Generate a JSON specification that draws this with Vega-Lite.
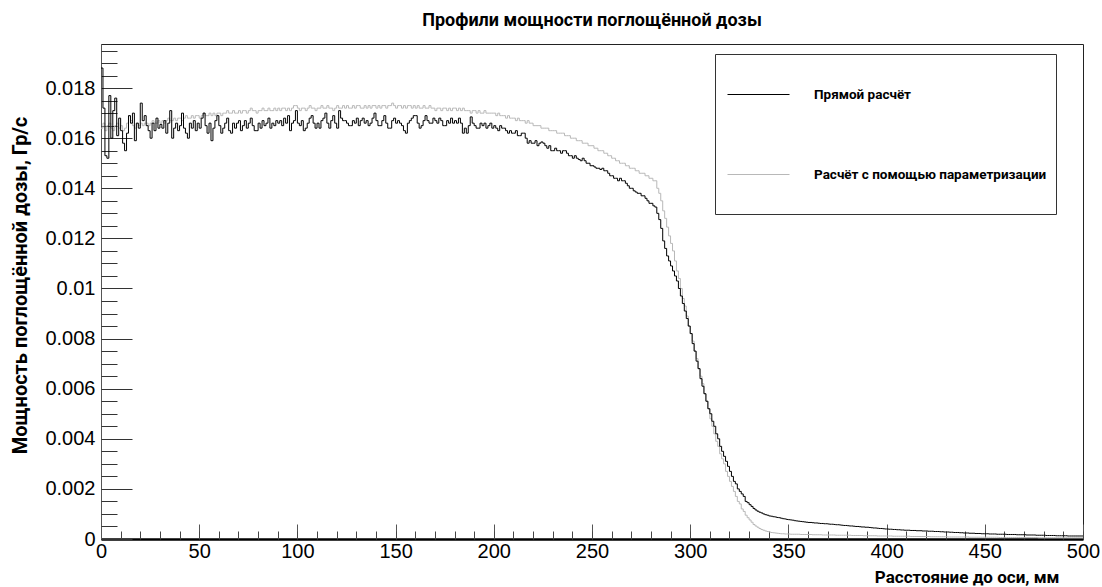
{
"$schema":"https://vega.github.io/schema/vega-lite/v6.json",
"width":982,"height":495,
"autosize":"none",
"padding":{"left":101,"top":44,"right":19,"bottom":48},
"background":"white",
"title":{"text":"Профили мощности поглощённой дозы","font":"Roboto","fontSize":18,"fontWeight":"bold","color":"black","anchor":"middle","offset":14},
"config":{"view":{"stroke":"#222","strokeWidth":1},"axis":{"grid":false}},
"data":{"values":[
{"x":0,"d":0.0188,"p":0.0164},{"x":1,"d":0.0172,"p":0.0166},{"x":2,"d":0.0153,"p":0.0163},{"x":3,"d":0.0152,"p":0.0165},{"x":4,"d":0.0177,"p":0.0166},
{"x":5,"d":0.0160,"p":0.0164},{"x":6,"d":0.0171,"p":0.0163},{"x":7,"d":0.0176,"p":0.0165},{"x":8,"d":0.0161,"p":0.0166},{"x":9,"d":0.0168,"p":0.0164},
{"x":10,"d":0.0163,"p":0.0165},{"x":11,"d":0.0158,"p":0.0163},{"x":12,"d":0.0155,"p":0.0164},{"x":13,"d":0.0162,"p":0.0166},{"x":14,"d":0.0169,"p":0.0169},
{"x":15,"d":0.0166,"p":0.0167},{"x":16,"d":0.0170,"p":0.0165},{"x":17,"d":0.0159,"p":0.0164},{"x":18,"d":0.0166,"p":0.0166},{"x":19,"d":0.0164,"p":0.0165},
{"x":20,"d":0.0174,"p":0.0166},{"x":21,"d":0.0167,"p":0.0165},{"x":22,"d":0.0169,"p":0.0166},{"x":23,"d":0.0165,"p":0.0166},{"x":24,"d":0.0163,"p":0.0165},
{"x":25,"d":0.0160,"p":0.0166},{"x":26,"d":0.0166,"p":0.0167},{"x":27,"d":0.0163,"p":0.0166},{"x":28,"d":0.0168,"p":0.0166},{"x":29,"d":0.0164,"p":0.0167},
{"x":30,"d":0.01655,"p":0.0166},{"x":31,"d":0.0164,"p":0.0167},{"x":32,"d":0.0167,"p":0.0166},{"x":33,"d":0.0162,"p":0.0167},{"x":34,"d":0.0166,"p":0.0168},
{"x":35,"d":0.0171,"p":0.0167},{"x":36,"d":0.0160,"p":0.0167},{"x":37,"d":0.0164,"p":0.0168},{"x":38,"d":0.0166,"p":0.0167},{"x":39,"d":0.0163,"p":0.0168},
{"x":40,"d":0.0165,"p":0.0168},{"x":41,"d":0.0170,"p":0.0167},{"x":42,"d":0.0164,"p":0.0168},{"x":43,"d":0.0162,"p":0.0169},{"x":44,"d":0.0160,"p":0.0168},
{"x":45,"d":0.0166,"p":0.0168},{"x":46,"d":0.0164,"p":0.0169},{"x":47,"d":0.0167,"p":0.0168},{"x":48,"d":0.0163,"p":0.0169},{"x":49,"d":0.0166,"p":0.0169},
{"x":50,"d":0.0164,"p":0.0168},{"x":51,"d":0.0168,"p":0.0169},{"x":52,"d":0.0170,"p":0.0170},{"x":53,"d":0.0165,"p":0.0169},{"x":54,"d":0.0162,"p":0.0169},
{"x":55,"d":0.0166,"p":0.0170},{"x":56,"d":0.0159,"p":0.0169},{"x":57,"d":0.0164,"p":0.0170},{"x":58,"d":0.0167,"p":0.0169},{"x":59,"d":0.0169,"p":0.0170},
{"x":60,"d":0.0165,"p":0.0170},{"x":61,"d":0.0162,"p":0.0169},{"x":62,"d":0.0164,"p":0.0170},{"x":63,"d":0.0166,"p":0.0170},{"x":64,"d":0.0168,"p":0.0171},
{"x":65,"d":0.0163,"p":0.0170},{"x":66,"d":0.0162,"p":0.0170},{"x":67,"d":0.0166,"p":0.0171},{"x":68,"d":0.0164,"p":0.0170},{"x":69,"d":0.0166,"p":0.0170},
{"x":70,"d":0.0167,"p":0.0171},{"x":71,"d":0.0163,"p":0.0170},{"x":72,"d":0.0165,"p":0.0171},{"x":73,"d":0.0167,"p":0.0171},{"x":74,"d":0.0164,"p":0.0170},
{"x":75,"d":0.0166,"p":0.0171},{"x":76,"d":0.0168,"p":0.0172},{"x":77,"d":0.0165,"p":0.0171},{"x":78,"d":0.0163,"p":0.0171},{"x":79,"d":0.0163,"p":0.0170},
{"x":80,"d":0.0166,"p":0.0171},{"x":81,"d":0.0164,"p":0.0171},{"x":82,"d":0.0167,"p":0.0172},{"x":83,"d":0.0165,"p":0.0171},{"x":84,"d":0.0166,"p":0.0171},
{"x":85,"d":0.0168,"p":0.0172},{"x":86,"d":0.0164,"p":0.0171},{"x":87,"d":0.0166,"p":0.0171},{"x":88,"d":0.0165,"p":0.0172},{"x":89,"d":0.0167,"p":0.0171},
{"x":90,"d":0.0166,"p":0.0172},{"x":91,"d":0.0167,"p":0.0171},{"x":92,"d":0.0165,"p":0.0172},{"x":93,"d":0.0168,"p":0.0172},{"x":94,"d":0.0166,"p":0.0171},
{"x":95,"d":0.0169,"p":0.0172},{"x":96,"d":0.0163,"p":0.0171},{"x":97,"d":0.0166,"p":0.0172},{"x":98,"d":0.0167,"p":0.0173},{"x":99,"d":0.0171,"p":0.0173},
{"x":100,"d":0.0166,"p":0.0172},{"x":101,"d":0.0165,"p":0.0171},{"x":102,"d":0.0167,"p":0.0172},{"x":103,"d":0.0163,"p":0.0172},{"x":104,"d":0.0164,"p":0.0171},
{"x":105,"d":0.0166,"p":0.0172},{"x":106,"d":0.0168,"p":0.0173},{"x":107,"d":0.0169,"p":0.0172},{"x":108,"d":0.0166,"p":0.0172},{"x":109,"d":0.0164,"p":0.0171},
{"x":110,"d":0.0166,"p":0.0172},{"x":111,"d":0.0164,"p":0.0172},{"x":112,"d":0.0167,"p":0.0173},{"x":113,"d":0.0168,"p":0.0172},{"x":114,"d":0.0170,"p":0.0172},
{"x":115,"d":0.0166,"p":0.0173},{"x":116,"d":0.0164,"p":0.0172},{"x":117,"d":0.0167,"p":0.0172},{"x":118,"d":0.0169,"p":0.0171},{"x":119,"d":0.0166,"p":0.0172},
{"x":120,"d":0.0164,"p":0.0173},{"x":121,"d":0.0171,"p":0.0172},{"x":122,"d":0.0168,"p":0.0172},{"x":123,"d":0.0167,"p":0.0173},{"x":124,"d":0.0167,"p":0.0172},
{"x":125,"d":0.0166,"p":0.0173},{"x":126,"d":0.0165,"p":0.0172},{"x":127,"d":0.0165,"p":0.0172},{"x":128,"d":0.0167,"p":0.0173},{"x":129,"d":0.0166,"p":0.0172},
{"x":130,"d":0.0168,"p":0.0173},{"x":131,"d":0.0165,"p":0.0173},{"x":132,"d":0.0167,"p":0.0172},{"x":133,"d":0.0168,"p":0.0172},{"x":134,"d":0.0166,"p":0.0173},
{"x":135,"d":0.0167,"p":0.0172},{"x":136,"d":0.0165,"p":0.0173},{"x":137,"d":0.0166,"p":0.0172},{"x":138,"d":0.0168,"p":0.0173},{"x":139,"d":0.0170,"p":0.0173},
{"x":140,"d":0.0167,"p":0.0172},{"x":141,"d":0.0165,"p":0.0173},{"x":142,"d":0.0165,"p":0.0172},{"x":143,"d":0.0167,"p":0.0173},{"x":144,"d":0.0169,"p":0.0173},
{"x":145,"d":0.0166,"p":0.0172},{"x":146,"d":0.0164,"p":0.0173},{"x":147,"d":0.0164,"p":0.0173},{"x":148,"d":0.0167,"p":0.0174},{"x":149,"d":0.0168,"p":0.0173},
{"x":150,"d":0.0166,"p":0.0172},{"x":151,"d":0.0167,"p":0.0173},{"x":152,"d":0.0166,"p":0.0173},{"x":153,"d":0.0165,"p":0.0172},{"x":154,"d":0.0163,"p":0.0173},
{"x":155,"d":0.0162,"p":0.0172},{"x":156,"d":0.0166,"p":0.0173},{"x":157,"d":0.0167,"p":0.0173},{"x":158,"d":0.0168,"p":0.0172},{"x":159,"d":0.0169,"p":0.0173},
{"x":160,"d":0.0169,"p":0.0172},{"x":161,"d":0.0166,"p":0.0173},{"x":162,"d":0.0164,"p":0.0172},{"x":163,"d":0.0165,"p":0.0172},{"x":164,"d":0.0167,"p":0.0173},
{"x":165,"d":0.0169,"p":0.0172},{"x":166,"d":0.0167,"p":0.0172},{"x":167,"d":0.0166,"p":0.0173},{"x":168,"d":0.0166,"p":0.0172},{"x":169,"d":0.0168,"p":0.0172},
{"x":170,"d":0.0167,"p":0.0171},{"x":171,"d":0.0166,"p":0.0172},{"x":172,"d":0.0168,"p":0.0172},{"x":173,"d":0.0167,"p":0.0171},{"x":174,"d":0.0165,"p":0.0172},
{"x":175,"d":0.0165,"p":0.0172},{"x":176,"d":0.0167,"p":0.0171},{"x":177,"d":0.0166,"p":0.0172},{"x":178,"d":0.0168,"p":0.0171},{"x":179,"d":0.0166,"p":0.0172},
{"x":180,"d":0.0167,"p":0.0172},{"x":181,"d":0.0166,"p":0.0171},{"x":182,"d":0.0168,"p":0.0172},{"x":183,"d":0.0166,"p":0.0171},{"x":184,"d":0.0162,"p":0.0172},
{"x":185,"d":0.0164,"p":0.0171},{"x":186,"d":0.0162,"p":0.0171},{"x":187,"d":0.0165,"p":0.0171},{"x":188,"d":0.01685,"p":0.0170},{"x":189,"d":0.0166,"p":0.0171},
{"x":190,"d":0.0165,"p":0.0171},{"x":191,"d":0.0164,"p":0.0170},{"x":192,"d":0.0164,"p":0.0171},{"x":193,"d":0.0166,"p":0.0170},{"x":194,"d":0.0165,"p":0.0170},
{"x":195,"d":0.0166,"p":0.0171},{"x":196,"d":0.0164,"p":0.0170},{"x":197,"d":0.0165,"p":0.0170},{"x":198,"d":0.0166,"p":0.0170},{"x":199,"d":0.0164,"p":0.0170},
{"x":200,"d":0.0165,"p":0.0170},{"x":201,"d":0.0164,"p":0.0169},{"x":202,"d":0.0163,"p":0.0170},{"x":203,"d":0.0165,"p":0.0169},{"x":204,"d":0.0164,"p":0.0169},
{"x":205,"d":0.0164,"p":0.0169},{"x":206,"d":0.0163,"p":0.0168},{"x":207,"d":0.0162,"p":0.0169},{"x":208,"d":0.0163,"p":0.0168},{"x":209,"d":0.0162,"p":0.0168},
{"x":210,"d":0.0162,"p":0.0168},{"x":211,"d":0.0163,"p":0.0167},{"x":212,"d":0.0161,"p":0.0168},{"x":213,"d":0.0161,"p":0.0167},{"x":214,"d":0.0162,"p":0.0167},
{"x":215,"d":0.0162,"p":0.0167},{"x":216,"d":0.0160,"p":0.0166},{"x":217,"d":0.0158,"p":0.0167},{"x":218,"d":0.0159,"p":0.0166},{"x":219,"d":0.0158,"p":0.0166},
{"x":220,"d":0.0158,"p":0.0165},{"x":221,"d":0.0159,"p":0.0165},{"x":222,"d":0.0157,"p":0.0165},{"x":223,"d":0.0158,"p":0.0165},{"x":224,"d":0.01585,"p":0.0164},
{"x":225,"d":0.0158,"p":0.0164},{"x":226,"d":0.0157,"p":0.0164},{"x":227,"d":0.0156,"p":0.0164},{"x":228,"d":0.0157,"p":0.0163},{"x":229,"d":0.0155,"p":0.0163},
{"x":230,"d":0.0155,"p":0.0163},{"x":231,"d":0.0156,"p":0.0163},{"x":232,"d":0.0155,"p":0.0162},{"x":233,"d":0.0155,"p":0.0162},{"x":234,"d":0.0154,"p":0.0162},
{"x":235,"d":0.0155,"p":0.0162},{"x":236,"d":0.0155,"p":0.0161},{"x":237,"d":0.0154,"p":0.0161},{"x":238,"d":0.0153,"p":0.0161},{"x":239,"d":0.0153,"p":0.0160},
{"x":240,"d":0.0152,"p":0.0160},{"x":241,"d":0.0153,"p":0.0160},{"x":242,"d":0.0152,"p":0.0159},{"x":243,"d":0.01515,"p":0.0159},{"x":244,"d":0.0151,"p":0.0159},
{"x":245,"d":0.0152,"p":0.0158},{"x":246,"d":0.0151,"p":0.0158},{"x":247,"d":0.0150,"p":0.0158},{"x":248,"d":0.0150,"p":0.0157},{"x":249,"d":0.0149,"p":0.0157},
{"x":250,"d":0.0149,"p":0.0157},{"x":251,"d":0.01485,"p":0.0156},{"x":252,"d":0.0148,"p":0.0156},{"x":253,"d":0.0148,"p":0.0155},{"x":254,"d":0.01475,"p":0.0155},
{"x":255,"d":0.0148,"p":0.0155},{"x":256,"d":0.0147,"p":0.0154},{"x":257,"d":0.0147,"p":0.0154},{"x":258,"d":0.0146,"p":0.0153},{"x":259,"d":0.0145,"p":0.0153},
{"x":260,"d":0.0145,"p":0.0152},{"x":261,"d":0.0144,"p":0.0152},{"x":262,"d":0.0144,"p":0.0151},{"x":263,"d":0.0143,"p":0.0151},{"x":264,"d":0.0144,"p":0.0150},
{"x":265,"d":0.0143,"p":0.0150},{"x":266,"d":0.0143,"p":0.0150},{"x":267,"d":0.0142,"p":0.0149},{"x":268,"d":0.0141,"p":0.0149},{"x":269,"d":0.0140,"p":0.0148},
{"x":270,"d":0.0140,"p":0.0148},{"x":271,"d":0.0139,"p":0.0148},{"x":272,"d":0.01385,"p":0.0147},{"x":273,"d":0.0138,"p":0.0147},{"x":274,"d":0.0138,"p":0.0146},
{"x":275,"d":0.0137,"p":0.0146},{"x":276,"d":0.0137,"p":0.0146},{"x":277,"d":0.0136,"p":0.0145},{"x":278,"d":0.0135,"p":0.0145},{"x":279,"d":0.0134,"p":0.0144},
{"x":280,"d":0.0134,"p":0.0144},{"x":281,"d":0.0133,"p":0.0143},{"x":282,"d":0.01325,"p":0.0143},{"x":283,"d":0.0130,"p":0.0140},{"x":284,"d":0.01275,"p":0.0138},
{"x":285,"d":0.0124,"p":0.0135},{"x":286,"d":0.0119,"p":0.0131},{"x":287,"d":0.0116,"p":0.0128},{"x":288,"d":0.0113,"p":0.01245},{"x":289,"d":0.0111,"p":0.0121},
{"x":290,"d":0.0109,"p":0.0118},{"x":291,"d":0.0107,"p":0.0115},{"x":292,"d":0.0105,"p":0.0111},{"x":293,"d":0.0103,"p":0.0107},{"x":294,"d":0.0100,"p":0.0104},
{"x":295,"d":0.0097,"p":0.0100},{"x":296,"d":0.0094,"p":0.0096},{"x":297,"d":0.0091,"p":0.0093},{"x":298,"d":0.0088,"p":0.0089},{"x":299,"d":0.0085,"p":0.0085},
{"x":300,"d":0.0082,"p":0.0082},{"x":301,"d":0.0078,"p":0.0079},{"x":302,"d":0.0075,"p":0.0075},{"x":303,"d":0.0071,"p":0.0072},{"x":304,"d":0.0068,"p":0.0068},
{"x":305,"d":0.0064,"p":0.0065},{"x":306,"d":0.0061,"p":0.0062},{"x":307,"d":0.0058,"p":0.0058},{"x":308,"d":0.0055,"p":0.0055},{"x":309,"d":0.0052,"p":0.0052},
{"x":310,"d":0.0050,"p":0.0048},{"x":311,"d":0.0047,"p":0.0045},{"x":312,"d":0.0045,"p":0.0042},{"x":313,"d":0.0042,"p":0.0039},{"x":314,"d":0.0040,"p":0.0037},
{"x":315,"d":0.0037,"p":0.0034},{"x":316,"d":0.0035,"p":0.0032},{"x":317,"d":0.0033,"p":0.0030},{"x":318,"d":0.0031,"p":0.0027},{"x":319,"d":0.0029,"p":0.0025},
{"x":320,"d":0.0027,"p":0.0023},{"x":321,"d":0.0025,"p":0.0021},{"x":322,"d":0.0023,"p":0.0019},{"x":323,"d":0.0022,"p":0.0017},{"x":324,"d":0.0020,"p":0.0015},
{"x":325,"d":0.0019,"p":0.0014},{"x":326,"d":0.0018,"p":0.0012},{"x":327,"d":0.0017,"p":0.0011},{"x":328,"d":0.0015,"p":0.00095},{"x":329,"d":0.00145,"p":0.00085},
{"x":330,"d":0.00137,"p":0.00076},{"x":331,"d":0.0013,"p":0.00067},{"x":332,"d":0.00122,"p":0.00058},{"x":333,"d":0.00116,"p":0.00052},{"x":334,"d":0.00111,"p":0.00047},
{"x":335,"d":0.00107,"p":0.00042},{"x":336,"d":0.00104,"p":0.00038},{"x":337,"d":0.00100,"p":0.00035},{"x":338,"d":0.00097,"p":0.00032},{"x":339,"d":0.00095,"p":0.00030},
{"x":340,"d":0.00092,"p":0.00028},{"x":341,"d":0.00091,"p":0.00026},{"x":342,"d":0.00089,"p":0.00025},{"x":343,"d":0.00088,"p":0.00024},{"x":344,"d":0.00086,"p":0.00023},
{"x":345,"d":0.00085,"p":0.00022},{"x":346,"d":0.00083,"p":0.00021},{"x":347,"d":0.00081,"p":0.00021},{"x":348,"d":0.00080,"p":0.00020},{"x":349,"d":0.00078,"p":0.00020},
{"x":350,"d":0.00077,"p":0.00020},{"x":351,"d":0.00076,"p":0.00019},{"x":352,"d":0.00075,"p":0.00019},{"x":353,"d":0.00073,"p":0.00019},{"x":354,"d":0.00072,"p":0.00019},
{"x":355,"d":0.00071,"p":0.00019},{"x":356,"d":0.00070,"p":0.00018},{"x":357,"d":0.00069,"p":0.00018},{"x":358,"d":0.00068,"p":0.00018},{"x":359,"d":0.00067,"p":0.00018},
{"x":360,"d":0.00066,"p":0.00018},{"x":361,"d":0.00066,"p":0.00018},{"x":362,"d":0.00065,"p":0.00017},{"x":363,"d":0.00064,"p":0.00017},{"x":364,"d":0.00064,"p":0.00017},
{"x":365,"d":0.00063,"p":0.00017},{"x":366,"d":0.00062,"p":0.00017},{"x":367,"d":0.00062,"p":0.00016},{"x":368,"d":0.00061,"p":0.00016},{"x":369,"d":0.00061,"p":0.00016},
{"x":370,"d":0.00060,"p":0.00016},{"x":371,"d":0.00059,"p":0.00016},{"x":372,"d":0.00059,"p":0.00016},{"x":373,"d":0.00058,"p":0.00016},{"x":374,"d":0.00057,"p":0.00015},
{"x":375,"d":0.00057,"p":0.00015},{"x":376,"d":0.00056,"p":0.00015},{"x":377,"d":0.00055,"p":0.00015},{"x":378,"d":0.00054,"p":0.00015},{"x":379,"d":0.00054,"p":0.00015},
{"x":380,"d":0.00053,"p":0.00015},{"x":381,"d":0.00052,"p":0.00015},{"x":382,"d":0.00052,"p":0.00014},{"x":383,"d":0.00051,"p":0.00014},{"x":384,"d":0.00050,"p":0.00014},
{"x":385,"d":0.00050,"p":0.00014},{"x":386,"d":0.00049,"p":0.00014},{"x":387,"d":0.00048,"p":0.00014},{"x":388,"d":0.00048,"p":0.00013},{"x":389,"d":0.00047,"p":0.00013},
{"x":390,"d":0.00047,"p":0.00013},{"x":391,"d":0.00046,"p":0.00013},{"x":392,"d":0.00045,"p":0.00013},{"x":393,"d":0.00044,"p":0.00013},{"x":394,"d":0.00044,"p":0.00013},
{"x":395,"d":0.00043,"p":0.00012},{"x":396,"d":0.00042,"p":0.00012},{"x":397,"d":0.00042,"p":0.00012},{"x":398,"d":0.00041,"p":0.00012},{"x":399,"d":0.00040,"p":0.00012},
{"x":400,"d":0.00040,"p":0.00012},{"x":401,"d":0.00039,"p":0.00012},{"x":402,"d":0.00039,"p":0.00012},{"x":403,"d":0.00038,"p":0.00011},{"x":404,"d":0.00038,"p":0.00011},
{"x":405,"d":0.00037,"p":0.00011},{"x":406,"d":0.00037,"p":0.00011},{"x":407,"d":0.00036,"p":0.00011},{"x":408,"d":0.00036,"p":0.00011},{"x":409,"d":0.00035,"p":0.00011},
{"x":410,"d":0.00035,"p":0.00011},{"x":411,"d":0.00035,"p":0.00011},{"x":412,"d":0.00034,"p":0.00010},{"x":413,"d":0.00034,"p":0.00010},{"x":414,"d":0.00034,"p":0.00010},
{"x":415,"d":0.00033,"p":0.00010},{"x":416,"d":0.00033,"p":0.00010},{"x":417,"d":0.00033,"p":0.00010},{"x":418,"d":0.00032,"p":0.00010},{"x":419,"d":0.00032,"p":0.00010},
{"x":420,"d":0.00032,"p":0.00010},{"x":421,"d":0.00031,"p":0.00010},{"x":422,"d":0.00031,"p":0.00009},{"x":423,"d":0.00031,"p":0.00009},{"x":424,"d":0.00030,"p":0.00009},
{"x":425,"d":0.00030,"p":0.00009},{"x":426,"d":0.00030,"p":0.00009},{"x":427,"d":0.00029,"p":0.00009},{"x":428,"d":0.00029,"p":0.00009},{"x":429,"d":0.00028,"p":0.00009},
{"x":430,"d":0.00028,"p":0.00009},{"x":431,"d":0.00028,"p":0.00008},{"x":432,"d":0.00027,"p":0.00008},{"x":433,"d":0.00027,"p":0.00008},{"x":434,"d":0.00026,"p":0.00008},
{"x":435,"d":0.00026,"p":0.00008},{"x":436,"d":0.00026,"p":0.00008},{"x":437,"d":0.00025,"p":0.00008},{"x":438,"d":0.00025,"p":0.00008},{"x":439,"d":0.00024,"p":0.00008},
{"x":440,"d":0.00024,"p":0.00008},{"x":441,"d":0.00024,"p":0.00008},{"x":442,"d":0.00023,"p":0.00007},{"x":443,"d":0.00023,"p":0.00007},{"x":444,"d":0.00023,"p":0.00007},
{"x":445,"d":0.00022,"p":0.00007},{"x":446,"d":0.00022,"p":0.00007},{"x":447,"d":0.00022,"p":0.00007},{"x":448,"d":0.00021,"p":0.00007},{"x":449,"d":0.00021,"p":0.00007},
{"x":450,"d":0.00021,"p":0.00007},{"x":451,"d":0.00021,"p":0.00007},{"x":452,"d":0.00020,"p":0.00007},{"x":453,"d":0.00020,"p":0.00007},{"x":454,"d":0.00020,"p":0.00007},
{"x":455,"d":0.00020,"p":0.00007},{"x":456,"d":0.00019,"p":0.00007},{"x":457,"d":0.00019,"p":0.00006},{"x":458,"d":0.00019,"p":0.00006},{"x":459,"d":0.00019,"p":0.00006},
{"x":460,"d":0.00019,"p":0.00006},{"x":461,"d":0.00018,"p":0.00006},{"x":462,"d":0.00018,"p":0.00006},{"x":463,"d":0.00018,"p":0.00006},{"x":464,"d":0.00018,"p":0.00006},
{"x":465,"d":0.00018,"p":0.00006},{"x":466,"d":0.00017,"p":0.00006},{"x":467,"d":0.00017,"p":0.00006},{"x":468,"d":0.00017,"p":0.00006},{"x":469,"d":0.00017,"p":0.00006},
{"x":470,"d":0.00017,"p":0.00006},{"x":471,"d":0.00016,"p":0.00006},{"x":472,"d":0.00016,"p":0.00006},{"x":473,"d":0.00016,"p":0.00006},{"x":474,"d":0.00016,"p":0.00006},
{"x":475,"d":0.00016,"p":0.00006},{"x":476,"d":0.00015,"p":0.00006},{"x":477,"d":0.00015,"p":0.00005},{"x":478,"d":0.00015,"p":0.00005},{"x":479,"d":0.00015,"p":0.00005},
{"x":480,"d":0.00015,"p":0.00005},{"x":481,"d":0.00014,"p":0.00005},{"x":482,"d":0.00014,"p":0.00005},{"x":483,"d":0.00014,"p":0.00005},{"x":484,"d":0.00014,"p":0.00005},
{"x":485,"d":0.00014,"p":0.00005},{"x":486,"d":0.00013,"p":0.00005},{"x":487,"d":0.00013,"p":0.00005},{"x":488,"d":0.00013,"p":0.00005},{"x":489,"d":0.00013,"p":0.00005},
{"x":490,"d":0.00013,"p":0.00005},{"x":491,"d":0.00013,"p":0.00005},{"x":492,"d":0.00012,"p":0.00005},{"x":493,"d":0.00012,"p":0.00005},{"x":494,"d":0.00012,"p":0.00005},
{"x":495,"d":0.00012,"p":0.00005},{"x":496,"d":0.00012,"p":0.00005},{"x":497,"d":0.00012,"p":0.00005},{"x":498,"d":0.00012,"p":0.00005},{"x":499,"d":0.00012,"p":0.00005},
{"x":500,"d":0.00012,"p":0.00005}
]},
"transform":[{"fold":["p","d"],"as":["s","v"]}],
"layer":[
{"mark":{"type":"line","interpolate":"step-after","strokeWidth":1},
"encoding":{
"x":{"field":"x","type":"quantitative","scale":{"domain":[0,500],"nice":false,"zero":false},
"axis":{"orient":"bottom","values":[0,50,100,150,200,250,300,350,400,450,500],"format":"d","tickSize":-15,"tickColor":"#555","tickWidth":1,"domainColor":"black","domainWidth":2.5,"labelFont":"Liberation Sans","labelFontSize":20,"labelColor":"black","labelPadding":17,"labelFlush":false,"title":"Расстояние до оси, мм","titleFont":"Roboto","titleFontSize":17,"titleFontWeight":"bold","titleColor":"black","titleAnchor":"end","titleAlign":"right","titleX":958,"titlePadding":8}},
"y":{"field":"v","type":"quantitative","scale":{"domain":[0,0.01976],"nice":false,"zero":true},
"axis":{"orient":"left","values":[0,0.002,0.004,0.006,0.008,0.01,0.012,0.014,0.016,0.018],"format":"~g","tickSize":-31,"tickColor":"#333","tickWidth":1,"domainColor":"#555","domainWidth":1,"labelFont":"Liberation Sans","labelFontSize":20,"labelColor":"black","labelPadding":37,"title":"Мощность поглощённой дозы, Гр/с","titleFont":"Roboto","titleFontSize":20,"titleFontWeight":"bold","titleColor":"black","titlePadding":14,"titleY":241}},
"color":{"field":"s","type":"nominal","scale":{"domain":["d","p"],"range":["#000000","#b8b8b8"]},
"legend":{"orient":"none","legendX":614,"legendY":10,"title":" ","titleOrient":"bottom","titleFontSize":14,"titlePadding":10,"symbolType":"stroke","symbolSize":3844,"symbolStrokeWidth":1,"symbolOffset":3,"labelFont":"Roboto","labelFontWeight":"bold","labelFontSize":13.5,"labelColor":"black","labelOffset":24,"labelLimit":400,"padding":9,"rowPadding":42,"strokeColor":"#333","fillColor":"white","labelExpr":"datum.value == 'd' ? '\u2002Прямой расчёт' : 'Расчёт с помощью параметризации'"}}
}},
{"mark":{"type":"point","opacity":0},
"encoding":{
"x":{"field":"x","type":"quantitative","axis":{"orient":"bottom","values":[0,10,20,30,40,50,60,70,80,90,100,110,120,130,140,150,160,170,180,190,200,210,220,230,240,250,260,270,280,290,300,310,320,330,340,350,360,370,380,390,400,410,420,430,440,450,460,470,480,490,500],"tickSize":-8,"tickColor":"#444","labels":false,"domain":false,"title":null}},
"y":{"field":"v","type":"quantitative","axis":{"orient":"left","values":[0,0.0005,0.001,0.0015,0.002,0.0025,0.003,0.0035,0.004,0.0045,0.005,0.0055,0.006,0.0065,0.007,0.0075,0.008,0.0085,0.009,0.0095,0.01,0.0105,0.011,0.0115,0.012,0.0125,0.013,0.0135,0.014,0.0145,0.015,0.0155,0.016,0.0165,0.017,0.0175,0.018,0.0185,0.019,0.0195],"tickSize":-16,"tickColor":"#333","labels":false,"domain":false,"title":null}}
}}
],
"resolve":{"axis":{"x":"independent","y":"independent"}}
}
